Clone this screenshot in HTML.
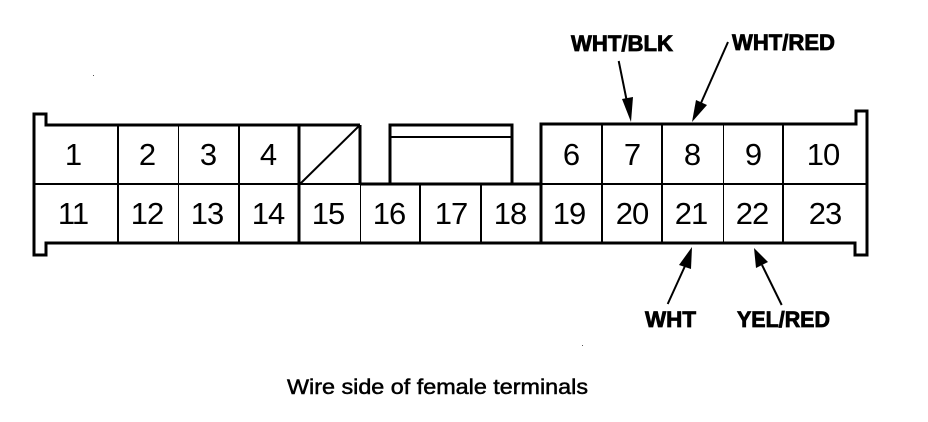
<!DOCTYPE html>
<html>
<head>
<meta charset="utf-8">
<title>Wire side of female terminals</title>
<style>
html,body{margin:0;padding:0;background:#fff;}
svg{display:block;}
text{font-family:"Liberation Sans",sans-serif;fill:#000;}
.n{font-size:31px;text-anchor:middle;letter-spacing:-1px;}
.b{font-size:22px;font-weight:bold;stroke:#000;stroke-width:.8px;}
.c{font-size:21px;stroke:#000;stroke-width:.5px;}
</style>
</head>
<body>
<svg width="928" height="422" viewBox="0 0 928 422" xmlns="http://www.w3.org/2000/svg">
<g fill="none" stroke="#000" stroke-width="2" shape-rendering="crispEdges">
  <!-- outer outline -->
  <path d="M360 125H46V114H34V255H46V243H855V255H867V111H856V124H541V243" stroke-width="3"/>
  <path d="M360 125V184" stroke-width="3"/>
  <!-- centre key -->
  <path d="M390 184V125H512V184" stroke-width="3"/>
  <path d="M390 137H512" stroke-width="2"/>
  <!-- middle line -->
  <path d="M34 184H360" stroke-width="2"/>
  <path d="M360 184H541" stroke-width="3"/>
  <path d="M541 184H867" stroke-width="2"/>
  <!-- verticals -->
  <path d="M118 125V243"/>
  <path d="M178.5 125V243" stroke-width="1"/>
  <path d="M239 125V243"/>
  <path d="M299 125V243" stroke-width="3"/>
  <path d="M360.5 184V243" stroke-width="1"/>
  <path d="M420 184V243"/>
  <path d="M481 184V243"/>
  <path d="M602 124V243"/>
  <path d="M662 124V243"/>
  <path d="M723.5 124V243" stroke-width="1"/>
  <path d="M783 124V243"/>
</g>
<g fill="none" stroke="#000">
  <!-- diagonal -->
  <path d="M300 184L360 125" stroke-width="2"/>
  <!-- arrow shafts -->
  <path d="M618.7 61L627 102" stroke-width="2"/>
  <path d="M728 42L701 103" stroke-width="2"/>
  <path d="M667.7 304L685 266" stroke-width="2"/>
  <path d="M781.7 305L762 265" stroke-width="2"/>
</g>
<!-- arrowheads -->
<polygon points="631,122 622,99 633,97" fill="#000"/>
<polygon points="692,122 696,100 707,105" fill="#000"/>
<polygon points="692,247 679,265 691,269" fill="#000"/>
<polygon points="754,248 756,268 768,262" fill="#000"/>
<!-- specks -->
<rect x="93" y="75" width="1" height="1" fill="#555"/>
<rect x="582" y="345" width="1" height="1" fill="#555"/>
<!-- numbers -->
<text class="n" x="73" y="165">1</text>
<text class="n" x="147" y="165">2</text>
<text class="n" x="208" y="165">3</text>
<text class="n" x="268" y="165">4</text>
<text class="n" x="571" y="165">6</text>
<text class="n" x="632" y="165">7</text>
<text class="n" x="692" y="165">8</text>
<text class="n" x="753" y="165">9</text>
<text class="n" x="823" y="165">10</text>
<text class="n" x="73" y="224">11</text>
<text class="n" x="147" y="224">12</text>
<text class="n" x="207" y="224">13</text>
<text class="n" x="268" y="224">14</text>
<text class="n" x="328" y="224">15</text>
<text class="n" x="389" y="224">16</text>
<text class="n" x="451" y="224">17</text>
<text class="n" x="510" y="224">18</text>
<text class="n" x="569" y="224">19</text>
<text class="n" x="632" y="224">20</text>
<text class="n" x="691" y="224">21</text>
<text class="n" x="752" y="224">22</text>
<text class="n" x="825" y="224">23</text>
<!-- wire labels -->
<text class="b" x="571" y="51" textLength="102" lengthAdjust="spacingAndGlyphs">WHT/BLK</text>
<text class="b" x="732" y="50" textLength="103" lengthAdjust="spacingAndGlyphs">WHT/RED</text>
<text class="b" x="645" y="327" textLength="51" lengthAdjust="spacingAndGlyphs">WHT</text>
<text class="b" x="737" y="327" textLength="93" lengthAdjust="spacingAndGlyphs">YEL/RED</text>
<text class="c" x="287" y="394" textLength="301" lengthAdjust="spacingAndGlyphs">Wire side of female terminals</text>
</svg>
</body>
</html>
